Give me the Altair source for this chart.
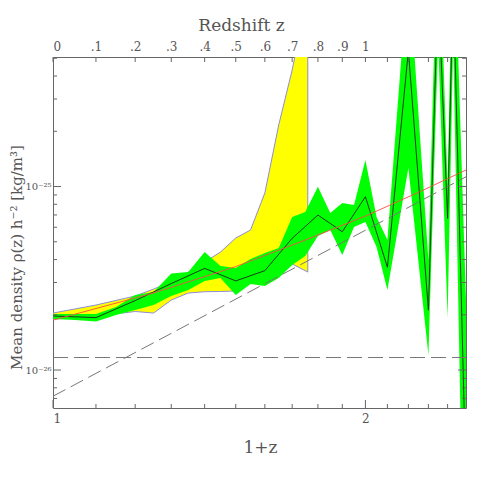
import altair as alt
import pandas as pd

W, H = 413, 351
XDOM = [1.0, 2.5]
YDOM = [6.21e-27, 5.08e-25]

# Yellow band (upper / lower bound)
yellow_x = [1.0, 1.1, 1.2, 1.25, 1.3, 1.35, 1.4, 1.45, 1.5, 1.55, 1.6, 1.65, 1.7, 1.76]
yellow_lo = [1.896e-26, 1.969e-26, 2.084e-26, 2.044e-26, 2.406e-26, 2.628e-26, 2.672e-26,
             2.679e-26, 2.696e-26, 3.094e-26, 3.879e-26, 4.026e-26, 3.783e-26, 3.420e-26]
yellow_hi = [2.044e-26, 2.261e-26, 2.531e-26, 2.763e-26, 3.017e-26, 3.420e-26, 3.879e-26,
             4.395e-26, 5.240e-26, 5.794e-26, 9.217e-26, 2.163e-25, 4.313e-25, 1.119e-24]

# Green band (upper / lower bound)
green_x = [1.0, 1.05, 1.1, 1.15, 1.2, 1.25, 1.3, 1.35, 1.4, 1.45, 1.5, 1.55, 1.6, 1.65,
           1.7, 1.75, 1.8, 1.85, 1.9, 1.95, 2.0, 2.05, 2.1, 2.2, 2.3, 2.35, 2.4, 2.43, 2.5]
green_lo = [1.896e-26, 1.873e-26, 1.838e-26, 1.994e-26, 2.123e-26, 2.261e-26, 2.531e-26,
            2.729e-26, 3.055e-26, 3.172e-26, 2.563e-26, 2.942e-26, 2.870e-26, 3.172e-26,
            3.735e-26, 4.181e-26, 5.374e-26, 5.794e-26, 4.233e-26, 6.017e-26, 6.405e-26,
            4.681e-26, 2.729e-26, 1.261e-25, 1.207e-26, 6.286e-25, 1.920e-26, 6.286e-25, 1.6e-28]
green_hi = [2.019e-26, 2.019e-26, 2.019e-26, 2.205e-26, 2.563e-26, 2.661e-26, 3.356e-26,
            3.420e-26, 4.395e-26, 3.688e-26, 3.597e-26, 4.026e-26, 4.341e-26, 4.623e-26,
            6.820e-26, 7.261e-26, 9.975e-26, 7.170e-26, 8.130e-26, 7.930e-26, 1.394e-25,
            6.820e-26, 5.110e-26, 1.611e-24, 3.977e-26, 3.64e-24, 1.019e-25, 3.64e-24, 2.406e-26]

# Mean density (black line)
mean_x = [1.0, 1.1, 1.2, 1.3, 1.4, 1.5, 1.6, 1.7, 1.8, 1.9, 2.0, 2.1, 2.2, 2.3, 2.35, 2.4, 2.43, 2.5]
mean_y = [1.97e-26, 1.93e-26, 2.39e-26, 2.96e-26, 3.58e-26, 3.06e-26, 3.48e-26, 5.22e-26,
          6.99e-26, 5.67e-26, 8.80e-26, 3.63e-26, 5.5e-25, 2.12e-26, 1.3e-24, 6.7e-26, 1.3e-24, 2.5e-27]

# Model (red line)
model_x = [1.0, 1.25, 1.5, 1.75, 2.0, 2.25, 2.5]
model_y = [1.87e-26, 2.63e-26, 3.66e-26, 5.11e-26, 6.9e-26, 9.3e-26, 1.23e-25]

# Dashed reference lines
matter_x = [1.0, 2.5]
matter_y = [7.2e-27, 1.13e-25]
lambda_x = [1.0, 2.5]
lambda_y = [1.17e-26, 1.17e-26]

# Tick positions
xticks = [1.0, 1.1, 1.2, 1.3, 1.4, 1.5, 1.6, 1.7, 1.8, 1.9, 2.0, 2.1, 2.2, 2.3, 2.4]
xticks_minor = [1.1, 1.2, 1.3, 1.4, 1.5, 1.6, 1.7, 1.8, 1.9, 2.1, 2.2, 2.3, 2.4]
xticks_major = [1.0, 2.0]
yticks_minor = [7e-27, 8e-27, 9e-27, 2e-26, 3e-26, 4e-26, 5e-26, 6e-26, 7e-26, 8e-26, 9e-26,
                2e-25, 3e-25, 4e-25, 5e-25]
yticks_major = [1e-26, 1e-25]

FONT = "DejaVu Serif"
TXT = "#555555"
FRAME = "#666666"

xs = alt.Scale(type="log", domain=XDOM, nice=False)
ys = alt.Scale(type="log", domain=YDOM, nice=False)

df_yel = pd.DataFrame({"x": yellow_x, "lo": yellow_lo, "hi": yellow_hi})
df_grn = pd.DataFrame({"x": green_x, "lo": green_lo, "hi": green_hi})
df_mean = pd.DataFrame({"x": mean_x, "y": mean_y})
df_model = pd.DataFrame({"x": model_x, "y": model_y})
df_matter = pd.DataFrame({"x": matter_x, "y": matter_y})
df_lambda = pd.DataFrame({"x": lambda_x, "y": lambda_y})

bottom_axis = alt.Axis(
    orient="bottom", values=xticks_major, labelExpr="'' + round(datum.value)",
    title="1+z", ticks=False, tickSize=0, domain=False, grid=False,
    labelFont=FONT, labelFontSize=12, labelColor=TXT, labelPadding=5,
    titleFont=FONT, titleFontSize=17, titleFontWeight="normal", titleColor=TXT,
    titleX=207, titleY=39, titleAlign="center", titleBaseline="middle",
)
left_axis = alt.Axis(
    orient="left", values=yticks_major,
    labelExpr="datum.value < 5e-26 ? '10⁻²⁶' : '10⁻²⁵'",
    title="Mean density ρ(z) h⁻²  [kg/m³]", ticks=False, tickSize=0, domain=False, grid=False,
    labelFont=FONT, labelFontSize=10, labelColor=TXT, labelPadding=2,
    titleFont=FONT, titleFontSize=15, titleFontWeight="normal", titleColor=TXT,
    titleX=-37, titleY=200, titleAngle=270, titleAlign="center", titleBaseline="middle",
)
top_axis = alt.Axis(
    orient="top", values=xticks,
    labelExpr="datum.value < 1.05 ? '0' : (datum.value < 1.95 ? '.' + round((datum.value - 1) * 10) : (datum.value < 2.05 ? '1' : ''))",
    title="Redshift z", ticks=False, tickSize=0, domain=False, grid=False,
    labelFont=FONT, labelFontSize=12, labelColor=TXT, labelPadding=4,
    titleFont=FONT, titleFontSize=17, titleFontWeight="normal", titleColor=TXT,
    titleX=188, titleY=-32, titleAlign="center", titleBaseline="middle",
)

yellow = alt.Chart(df_yel).mark_area(
    color="#ffff00", stroke="#8c8cdc", strokeWidth=1, clip=True
).encode(
    x=alt.X("x:Q", scale=xs, axis=bottom_axis),
    y=alt.Y("lo:Q", scale=ys, axis=left_axis),
    y2="hi:Q",
)
green = alt.Chart(df_grn).mark_area(color="#00ff00", clip=True).encode(
    x=alt.X("x:Q", scale=xs, axis=None),
    y=alt.Y("lo:Q", scale=ys, axis=None),
    y2="hi:Q",
)
mean = alt.Chart(df_mean).mark_line(color="#222222", strokeWidth=0.9, clip=True).encode(
    x=alt.X("x:Q", scale=xs, axis=None),
    y=alt.Y("y:Q", scale=ys, axis=None),
)
model = alt.Chart(df_model).mark_line(color="#ff4a4a", strokeWidth=0.9, clip=True).encode(
    x=alt.X("x:Q", scale=xs, axis=None),
    y=alt.Y("y:Q", scale=ys, axis=None),
)
matter = alt.Chart(df_matter).mark_line(color="#777777", strokeWidth=1, strokeDash=[14, 6], clip=True).encode(
    x=alt.X("x:Q", scale=xs, axis=None),
    y=alt.Y("y:Q", scale=ys, axis=None),
)
lam = alt.Chart(df_lambda).mark_line(color="#777777", strokeWidth=1, strokeDash=[15, 6], clip=True).encode(
    x=alt.X("x:Q", scale=xs, axis=None),
    y=alt.Y("y:Q", scale=ys, axis=None),
)

df_xmin = pd.DataFrame({"v": xticks_minor})
df_xmaj = pd.DataFrame({"v": xticks_major})
df_xall = pd.DataFrame({"v": xticks})
df_ymin = pd.DataFrame({"v": yticks_minor})
df_ymaj = pd.DataFrame({"v": yticks_major})

bt_min = alt.Chart(df_xmin).mark_rule(color=FRAME, strokeWidth=1).encode(
    x=alt.X("v:Q", scale=xs, axis=None), y=alt.value(H), y2=alt.value(H - 4))
bt_maj = alt.Chart(df_xmaj).mark_rule(color=FRAME, strokeWidth=1).encode(
    x=alt.X("v:Q", scale=xs, axis=None), y=alt.value(H), y2=alt.value(H - 8))
top_t = alt.Chart(df_xall).mark_rule(color=FRAME, strokeWidth=1).encode(
    x=alt.X("v:Q", scale=xs, axis=top_axis), y=alt.value(0), y2=alt.value(5))
lt_min = alt.Chart(df_ymin).mark_rule(color=FRAME, strokeWidth=1).encode(
    y=alt.Y("v:Q", scale=ys, axis=None), x=alt.value(0), x2=alt.value(4))
lt_maj = alt.Chart(df_ymaj).mark_rule(color=FRAME, strokeWidth=1).encode(
    y=alt.Y("v:Q", scale=ys, axis=None), x=alt.value(0), x2=alt.value(8))
rt_min = alt.Chart(df_ymin).mark_rule(color=FRAME, strokeWidth=1).encode(
    y=alt.Y("v:Q", scale=ys, axis=None), x=alt.value(W), x2=alt.value(W - 4))
rt_maj = alt.Chart(df_ymaj).mark_rule(color=FRAME, strokeWidth=1).encode(
    y=alt.Y("v:Q", scale=ys, axis=None), x=alt.value(W), x2=alt.value(W - 8))

chart = alt.layer(
    yellow, green, mean, model, matter, lam,
    bt_min, bt_maj, top_t, lt_min, lt_maj, rt_min, rt_maj,
).resolve_axis(x="independent", y="independent").properties(
    width=W, height=H,
    autosize=alt.AutoSizeParams(type="none"),
    padding={"left": 45, "top": 49, "right": 17, "bottom": 75},
    background="white",
).configure_view(stroke=FRAME, strokeWidth=1)

chart.save("out.html", embed_options={"renderer": "svg", "actions": False})
